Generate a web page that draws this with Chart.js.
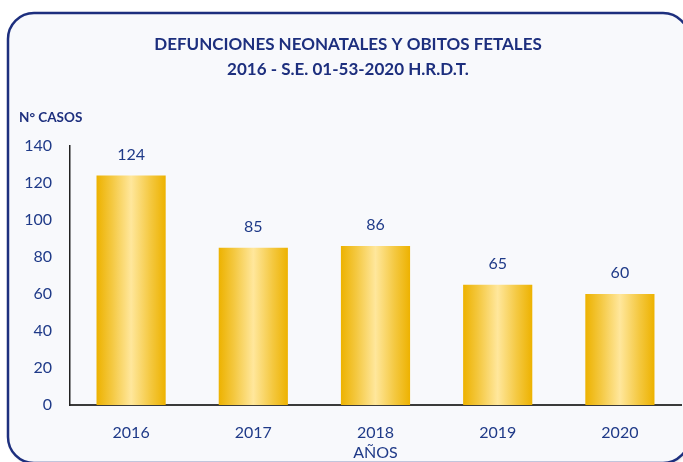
<!DOCTYPE html>
<html>
<head>
<meta charset="utf-8">
<script src="https://cdn.jsdelivr.net/npm/chart.js@4.4.1/dist/chart.umd.min.js"></script>
<style>
html,body{margin:0;padding:0;background:#ffffff;overflow:hidden;}
#wrap{width:683px;height:462px;position:relative;}
</style>
</head>
<body>
<div id="wrap"><canvas id="c" width="683" height="462"></canvas></div>
<script>
const categories = ['2016', '2017', '2018', '2019', '2020'];
const casos = [124, 85, 86, 65, 60];
const yTicks = [0, 20, 40, 60, 80, 100, 120, 140];
const titleLines = ['DEFUNCIONES NEONATALES Y OBITOS FETALES', '2016 - S.E. 01-53-2020 H.R.D.T.'];
const yTitle = 'N° CASOS';
const xTitle = 'AÑOS';

const NAVY = '#1d2f7e';
const TEXT = '#1f3a88';
const FONT = 'Lato, "Open Sans", sans-serif';
const BAR_PCT = 0.566;

const framePlugin = {
  id: 'frame',
  beforeDraw(chart) {
    const ctx = chart.ctx;
    ctx.save();
    const x = 8, y = 13, w = 681, h = 450, r = 26;
    ctx.shadowColor = 'rgba(0,0,0,0.25)';
    ctx.shadowBlur = 3;
    ctx.shadowOffsetX = 1;
    ctx.shadowOffsetY = 1;
    ctx.beginPath();
    ctx.moveTo(x + r, y);
    ctx.lineTo(x + w - r, y);
    ctx.arcTo(x + w, y, x + w, y + r, r);
    ctx.lineTo(x + w, y + h - r);
    ctx.arcTo(x + w, y + h, x + w - r, y + h, r);
    ctx.lineTo(x + r, y + h);
    ctx.arcTo(x, y + h, x, y + h - r, r);
    ctx.lineTo(x, y + r);
    ctx.arcTo(x, y, x + r, y, r);
    ctx.closePath();
    ctx.fillStyle = '#f8f9fc';
    ctx.fill();
    ctx.shadowColor = 'transparent';
    ctx.lineWidth = 2.5;
    ctx.strokeStyle = NAVY;
    ctx.stroke();
    // titles
    ctx.fillStyle = NAVY;
    ctx.textAlign = 'center';
    ctx.textBaseline = 'middle';
    ctx.font = 'bold 17px ' + FONT;
    ctx.fillText(titleLines[0], 348, 45);
    ctx.fillText(titleLines[1], 348, 70);
    ctx.textAlign = 'left';
    ctx.font = 'bold 13.5px ' + FONT;
    ctx.fillText(yTitle, 19, 118);
    ctx.restore();
  },
  afterDatasetsDraw(chart) {
    const ctx = chart.ctx;
    const meta = chart.getDatasetMeta(0);
    ctx.save();
    ctx.fillStyle = TEXT;
    ctx.font = '16px ' + FONT;
    ctx.textAlign = 'center';
    ctx.textBaseline = 'middle';
    meta.data.forEach((bar, i) => {
      ctx.fillText(String(casos[i]), bar.x, bar.y - 21);
    });
    ctx.restore();
  }
};

function barGradient(context) {
  const chart = context.chart;
  const xs = chart.scales && chart.scales.x;
  if (!chart.chartArea || !xs) return '#efb600';
  const cx = xs.getPixelForValue(context.dataIndex);
  const w = (xs.width / categories.length) * BAR_PCT;
  const g = chart.ctx.createLinearGradient(cx - w / 2, 0, cx + w / 2, 0);
  g.addColorStop(0, '#edb200');
  g.addColorStop(0.22, '#f4c840');
  g.addColorStop(0.5, '#ffe79c');
  g.addColorStop(0.78, '#f4c840');
  g.addColorStop(1, '#edb200');
  return g;
}

new Chart(document.getElementById('c'), {
  type: 'bar',
  data: {
    labels: categories,
    datasets: [{
      data: casos,
      backgroundColor: barGradient,
      borderWidth: 0,
      categoryPercentage: 1,
      barPercentage: BAR_PCT
    }]
  },
  options: {
    responsive: false,
    animation: false,
    layout: { padding: { top: 146, left: 0, right: 2, bottom: 0 } },
    plugins: { legend: { display: false }, tooltip: { enabled: false }, title: { display: false } },
    scales: {
      x: {
        grid: { display: false, drawTicks: false },
        border: { display: true, color: '#3a3a3a', width: 2 },
        ticks: { color: TEXT, font: { family: FONT, size: 16 }, padding: 18 },
        title: { display: true, text: xTitle, color: TEXT, font: { family: FONT, size: 16 }, padding: { top: 0, bottom: 0 } },
        afterFit(s) { s.height = 57; }
      },
      y: {
        min: 0, max: 140,
        afterBuildTicks(s) { s.ticks = yTicks.map(v => ({ value: v })); },
        grid: { display: false, drawTicks: false },
        border: { display: true, color: '#222222', width: 1.5 },
        ticks: { color: TEXT, font: { family: FONT, size: 16 }, padding: 18 },
        afterFit(s) { s.width = 70; }
      }
    }
  },
  plugins: [framePlugin]
});
</script>
</body>
</html>
